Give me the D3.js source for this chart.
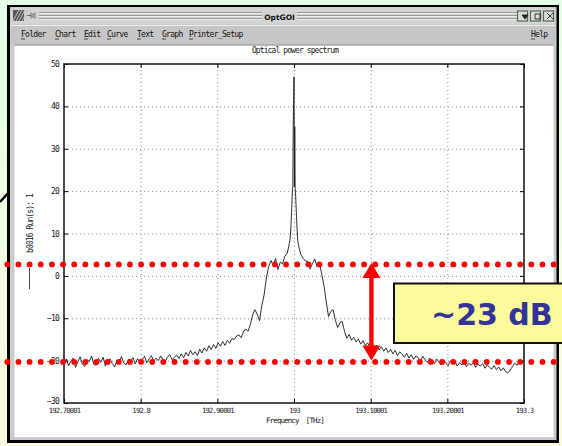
<!DOCTYPE html>
<html>
<head>
<meta charset="utf-8">
<script src="https://cdn.jsdelivr.net/npm/d3@7"></script>
<style>
    body { margin: 0; }
    svg { display: block; }
</style>
</head>
<body>
<div id="chart"></div>
<script>

// sweep below the carrier, 3 GHz steps from 192.700 THz
const lowerStartThz = 192.700;
const lowerSideDb = [
    -20.5, -19.6, -21.2, -20.1, -19.4, -21.6, -20.3, -19.1, -20.8, -21.4,
    -19.8, -20.2, -18.9, -20.9, -21.1, -19.5, -20.4, -19.2, -21.3, -20.0,
    -19.6, -20.7, -21.5, -19.9, -20.3, -19.0, -20.6, -21.0, -19.7, -20.1,
    -19.3, -20.8, -19.5, -20.4, -19.9, -19.0, -20.5, -19.6, -18.8, -20.2,
    -19.4, -20.0, -18.9, -19.7, -20.3, -19.1, -18.6, -19.8, -19.2, -18.7,
    -19.5, -18.4, -19.3, -18.1, -18.9, -17.6, -18.6, -17.9, -18.8, -17.3,
    -18.2, -17.0, -17.8, -16.5, -17.4, -16.2, -17.1, -15.8, -16.6, -15.5,
    -16.4, -15.2, -15.9, -14.8, -15.0, -14.2, -13.9, -14.6, -13.2, -12.5,
    -13.1, -11.5, -9.2, -8.0, -9.0, -10.6, -7.0, -4.5, -0.5, 2.2,
    3.6, 2.4, 4.1, 1.5, 3.2
];

// sweep above the carrier, same step
const upperStartThz = 193.018;
const upperSideDb = [
    3.4, 1.6, 2.9, 4.0, 2.2, 3.1, 0.6, -2.2, -6.0, -9.6,
    -8.4, -8.0, -10.5, -12.2, -11.0, -10.8, -13.2, -14.7, -13.8, -15.2,
    -14.5, -15.6, -14.9, -16.1, -15.3, -16.4, -15.8, -16.8, -16.0, -17.1,
    -16.4, -17.5, -16.7, -17.8, -17.0, -18.1, -17.3, -18.4, -17.6, -18.8,
    -17.9, -18.5, -19.2, -18.3, -19.4, -18.6, -19.7, -18.9, -19.3, -20.1,
    -19.0, -19.8, -20.4, -19.4, -20.0, -20.7, -19.6, -20.3, -21.0, -19.9,
    -20.5, -21.2, -20.1, -20.8, -20.2, -21.3, -20.5, -21.0, -20.3, -21.4,
    -20.6, -21.1, -20.4, -21.6, -20.8, -21.3, -20.7, -21.8, -21.0, -21.6,
    -22.0, -21.2, -22.1, -21.5, -22.4, -21.7, -22.6, -22.9, -22.2, -21.4,
    -20.6, -21.1, -20.2, -20.5
];
const sweepStepThz = 0.003;

// carrier peak, finer sampling
const peakThz = [192.985, 192.988, 192.991, 192.993, 192.995, 192.996, 192.997, 192.998,
    192.9985, 192.999, 193.0, 193.0005, 193.001, 193.0015, 193.002, 193.003, 193.004,
    193.005, 193.007, 193.009, 193.012, 193.015];
const peakDb = [2.9, 4.6, 5.3, 6.8, 8.9, 11.5, 15.8, 20.5,
    21.0, 35.0, 47.0, 21.0, 35.2, 20.6, 19.5, 15.2, 11.0,
    8.1, 6.3, 5.0, 4.1, 3.5];

const xTicks = [192.70001, 192.8, 192.90001, 193, 193.10001, 193.20001, 193.3];
const xTickLabels = ["192.70001", "192.8", "192.90001", "193", "193.10001", "193.20001", "193.3"];
const yTicks = [-30, -20, -10, 0, 10, 20, 30, 40, 50];

const menuItems = ["Folder", "Chart", "Edit", "Curve", "Text", "Graph", "Printer_Setup"];

// annotation: noise floor and top of the pedestal
const levelsDb = [2.7, -20.3];
const markerThz = 193.101;
const annotation = "~23 dB";


class SpectrumWindow {

    constructor(parentElement) {
        this._parentElement = parentElement;
        this.initVis();
    }

    initVis() {
        let vis = this;

        vis.width = 562;
        vis.height = 446;

        vis.svg = d3.select("#" + vis._parentElement).append("svg")
            .attr("width", vis.width)
            .attr("height", vis.height);

        // slide background
        let grad = vis.svg.append("defs").append("linearGradient")
            .attr("id", "bg").attr("x1", 0).attr("y1", 0).attr("x2", 0).attr("y2", 1);
        grad.append("stop").attr("offset", "0%").attr("stop-color", "#e4fde6");
        grad.append("stop").attr("offset", "100%").attr("stop-color", "#fbfcdc");
        vis.svg.append("rect").attr("width", vis.width).attr("height", vis.height).attr("fill", "url(#bg)");

        // callout stub on the left
        vis.svg.append("line")
            .attr("x1", 0).attr("y1", 202).attr("x2", 9).attr("y2", 192)
            .attr("stroke", "#000").attr("stroke-width", 2.5);

        vis.drawWindow();
        vis.drawPlot();
        vis.drawAnnotation();
    }

    drawWindow() {
        let vis = this;
        let s = vis.svg;
        let mono = "'DejaVu Sans Mono', monospace";

        s.append("rect").attr("x", 7).attr("y", 5).attr("width", 552).attr("height", 438).attr("fill", "#000");
        s.append("rect").attr("x", 10).attr("y", 7).attr("width", 546.5).attr("height", 433).attr("fill", "#cbcbcb");

        // title bar
        s.append("rect").attr("x", 11).attr("y", 8).attr("width", 544).attr("height", 16).attr("fill", "#d4d4d4");
        let icon = s.append("g");
        icon.append("rect").attr("x", 13).attr("y", 10).attr("width", 11).attr("height", 11).attr("fill", "#5a5a5a");
        [0, 3, 6, 9].forEach(o => icon.append("line")
            .attr("x1", 13 + o).attr("y1", 21).attr("x2", 13 + o + 6).attr("y2", 10)
            .attr("stroke", "#bbb").attr("stroke-width", 1));
        icon.append("path").attr("d", "M27,15.5 H31 M31,12.5 V18.5 M33,13 V18 M35,12.5 V18.5")
            .attr("stroke", "#666").attr("fill", "none").attr("stroke-width", 1);

        [[39, 262], [297, 517]].forEach(r => {
            [12.5, 15.5, 18.5].forEach(y => {
                s.append("line").attr("x1", r[0]).attr("x2", r[1]).attr("y1", y).attr("y2", y)
                    .attr("stroke", "#8a8a8a").attr("stroke-width", 0.8);
                s.append("line").attr("x1", r[0]).attr("x2", r[1]).attr("y1", y + 1).attr("y2", y + 1)
                    .attr("stroke", "#f4f4f4").attr("stroke-width", 0.8);
            });
        });
        s.append("text").attr("x", 279.5).attr("y", 19.5).attr("text-anchor", "middle")
            .attr("font-family", "'DejaVu Sans', sans-serif").attr("font-weight", "bold")
            .attr("font-size", 7.5).attr("fill", "#111").text("OptGOI");

        let btnPaths = ["M522,15 L528,15 L525,19 Z", "M535,14 h5 v5 h-5 Z", "M547,13 l6,6 M553,13 l-6,6"];
        [517.5, 530.5, 543.5].forEach((bx, i) => {
            s.append("rect").attr("x", bx).attr("y", 11).attr("width", 10).attr("height", 10)
                .attr("fill", "#dcdcdc").attr("stroke", "#4d6b4d").attr("stroke-width", 1.2);
            s.append("path").attr("d", btnPaths[i])
                .attr("fill", i === 0 ? "#222" : "none").attr("stroke", "#222").attr("stroke-width", 0.9);
        });

        // menu bar
        s.append("rect").attr("x", 11).attr("y", 25).attr("width", 544).attr("height", 19).attr("fill", "#c6c6c6");
        s.append("line").attr("x1", 11).attr("x2", 555).attr("y1", 25.5).attr("y2", 25.5).attr("stroke", "#eee");
        let menuX = [21, 55, 84, 107, 137, 162, 189];
        let menuG = s.append("g").attr("font-family", mono).attr("font-size", 8)
            .attr("letter-spacing", -0.7).attr("fill", "#111");
        menuItems.concat(["Help"]).forEach((m, i) => {
            let x = i < menuItems.length ? menuX[i] : 531;
            menuG.append("text").attr("x", x).attr("y", 37).text(m);
            menuG.append("line").attr("x1", x).attr("x2", x + 4).attr("y1", 39).attr("y2", 39)
                .attr("stroke", "#111").attr("stroke-width", 0.7);
        });

        // white canvas
        s.append("rect").attr("x", 14.5).attr("y", 45).attr("width", 539).attr("height", 392).attr("fill", "#fff");
        s.append("line").attr("x1", 14.5).attr("x2", 553.5).attr("y1", 45).attr("y2", 45).attr("stroke", "#888");
    }

    drawPlot() {
        let vis = this;
        let mono = "'DejaVu Sans Mono', monospace";

        vis.plot = {left: 64, top: 64, right: 524, bottom: 403};
        let w = vis.plot.right - vis.plot.left;
        let h = vis.plot.bottom - vis.plot.top;

        let g = vis.svg.append("g")
            .attr("transform", "translate(" + vis.plot.left + "," + vis.plot.top + ")");

        vis.x = d3.scaleLinear().domain([192.7, 193.3]).range([0, w]);
        vis.y = d3.scaleLinear().domain([-30, 50]).range([h, 0]);

        // dotted grid
        let inner = yTicks.filter(d => d > -30 && d < 50);
        g.append("g").attr("class", "grid")
            .call(d3.axisLeft(vis.y).tickValues(inner).tickSize(-w).tickFormat(""));
        g.append("g").attr("class", "grid").attr("transform", "translate(0," + h + ")")
            .call(d3.axisBottom(vis.x).tickValues(xTicks.slice(1, -1)).tickSize(-h).tickFormat(""));
        g.selectAll(".grid .domain").remove();
        g.selectAll(".grid line").attr("stroke", "#8c8c8c").attr("stroke-dasharray", "1,3").attr("stroke-width", 1);

        // spectrum
        let points = [];
        lowerSideDb.forEach((v, i) => points.push([lowerStartThz + i * sweepStepThz, v]));
        peakThz.forEach((f, i) => points.push([f, peakDb[i]]));
        upperSideDb.forEach((v, i) => points.push([upperStartThz + i * sweepStepThz, v]));

        let line = d3.line().x(d => vis.x(d[0])).y(d => vis.y(d[1]));
        g.append("path").datum(points)
            .attr("d", line).attr("fill", "none")
            .attr("stroke", "#1a1a1a").attr("stroke-width", 0.9);

        // axes with inward ticks
        let yAxis = g.append("g")
            .call(d3.axisLeft(vis.y).tickValues(yTicks).tickSize(-4).tickPadding(5));
        let xAxis = g.append("g").attr("transform", "translate(0," + h + ")")
            .call(d3.axisBottom(vis.x).tickValues(xTicks).tickSize(-4).tickPadding(5)
                .tickFormat((d, i) => xTickLabels[i]));
        g.append("g").call(d3.axisTop(vis.x).tickValues(xTicks).tickSize(-4).tickFormat(""));
        g.append("g").attr("transform", "translate(" + w + ",0)")
            .call(d3.axisRight(vis.y).tickValues(yTicks).tickSize(-4).tickFormat(""));
        g.selectAll(".domain").remove();
        g.selectAll(".tick line").filter(function() { return this.parentNode.parentNode.getAttribute("class") !== "grid"; })
            .attr("stroke", "#000");

        yAxis.selectAll("text").attr("font-size", 8);
        // lowest label sits just above the first x label
        yAxis.selectAll("text").filter(d => d === -30).attr("dy", "0.05em");
        xAxis.selectAll("text").attr("font-size", 7.2);
        [yAxis, xAxis].forEach(a => a.selectAll("text")
            .attr("font-family", mono)
            .attr("letter-spacing", -0.8).attr("fill", "#222"));

        g.append("rect").attr("width", w).attr("height", h)
            .attr("fill", "none").attr("stroke", "#111").attr("stroke-width", 1.5);

        // titles
        let txt = vis.svg.append("g").attr("font-family", mono).attr("font-size", 8)
            .attr("letter-spacing", -0.9).attr("fill", "#222");
        txt.append("text").attr("x", 295).attr("y", 53).attr("text-anchor", "middle")
            .text("Optical power spectrum");
        txt.append("text").attr("x", 295).attr("y", 422.5).attr("text-anchor", "middle")
            .attr("font-size", 7.5).attr("xml:space", "preserve").text("Frequency  [THz]");
        txt.append("text").attr("transform", "translate(32.5,223.5) rotate(-90)")
            .attr("text-anchor", "middle").text("b0016 Run(s): 1");
        vis.svg.append("line").attr("x1", 29.5).attr("x2", 29.5).attr("y1", 268).attr("y2", 289)
            .attr("stroke", "#444").attr("stroke-width", 1);
    }

    drawAnnotation() {
        let vis = this;
        let top = vis.plot.top;
        let left = vis.plot.left;

        // red dotted level lines across the slide
        let dotX = d3.range(7.3, vis.width, 11.15);
        levelsDb.forEach(lv => {
            vis.svg.append("g").selectAll("circle").data(dotX).enter().append("circle")
                .attr("cx", d => d).attr("cy", top + vis.y(lv))
                .attr("r", 2.9).attr("fill", "#ff0000");
        });

        // double arrow
        let ax = left + vis.x(markerThz);
        let y1 = top + vis.y(levelsDb[0]) - 1.5;
        let y2 = top + vis.y(levelsDb[1]) - 1.5;
        let hw = 9, hh = 15, sw = 2.2;
        vis.svg.append("path")
            .attr("d", "M" + ax + "," + y1 +
                " L" + (ax + hw) + "," + (y1 + hh) + " L" + (ax + sw) + "," + (y1 + hh) +
                " L" + (ax + sw) + "," + (y2 - hh) + " L" + (ax + hw) + "," + (y2 - hh) +
                " L" + ax + "," + y2 +
                " L" + (ax - hw) + "," + (y2 - hh) + " L" + (ax - sw) + "," + (y2 - hh) +
                " L" + (ax - sw) + "," + (y1 + hh) + " L" + (ax - hw) + "," + (y1 + hh) + " Z")
            .attr("fill", "#ff0000");

        // label box
        vis.svg.append("rect").attr("x", 394).attr("y", 283.5).attr("width", 180).attr("height", 59.5)
            .attr("fill", "#fbfb9c").attr("stroke", "#111").attr("stroke-width", 2);
        vis.svg.append("text").attr("x", 431).attr("y", 325)
            .attr("font-family", "'DejaVu Sans', sans-serif").attr("font-weight", "bold")
            .attr("font-size", 30).attr("fill", "#333399").text(annotation);
    }
}

new SpectrumWindow("chart");

</script>
</body>
</html>
